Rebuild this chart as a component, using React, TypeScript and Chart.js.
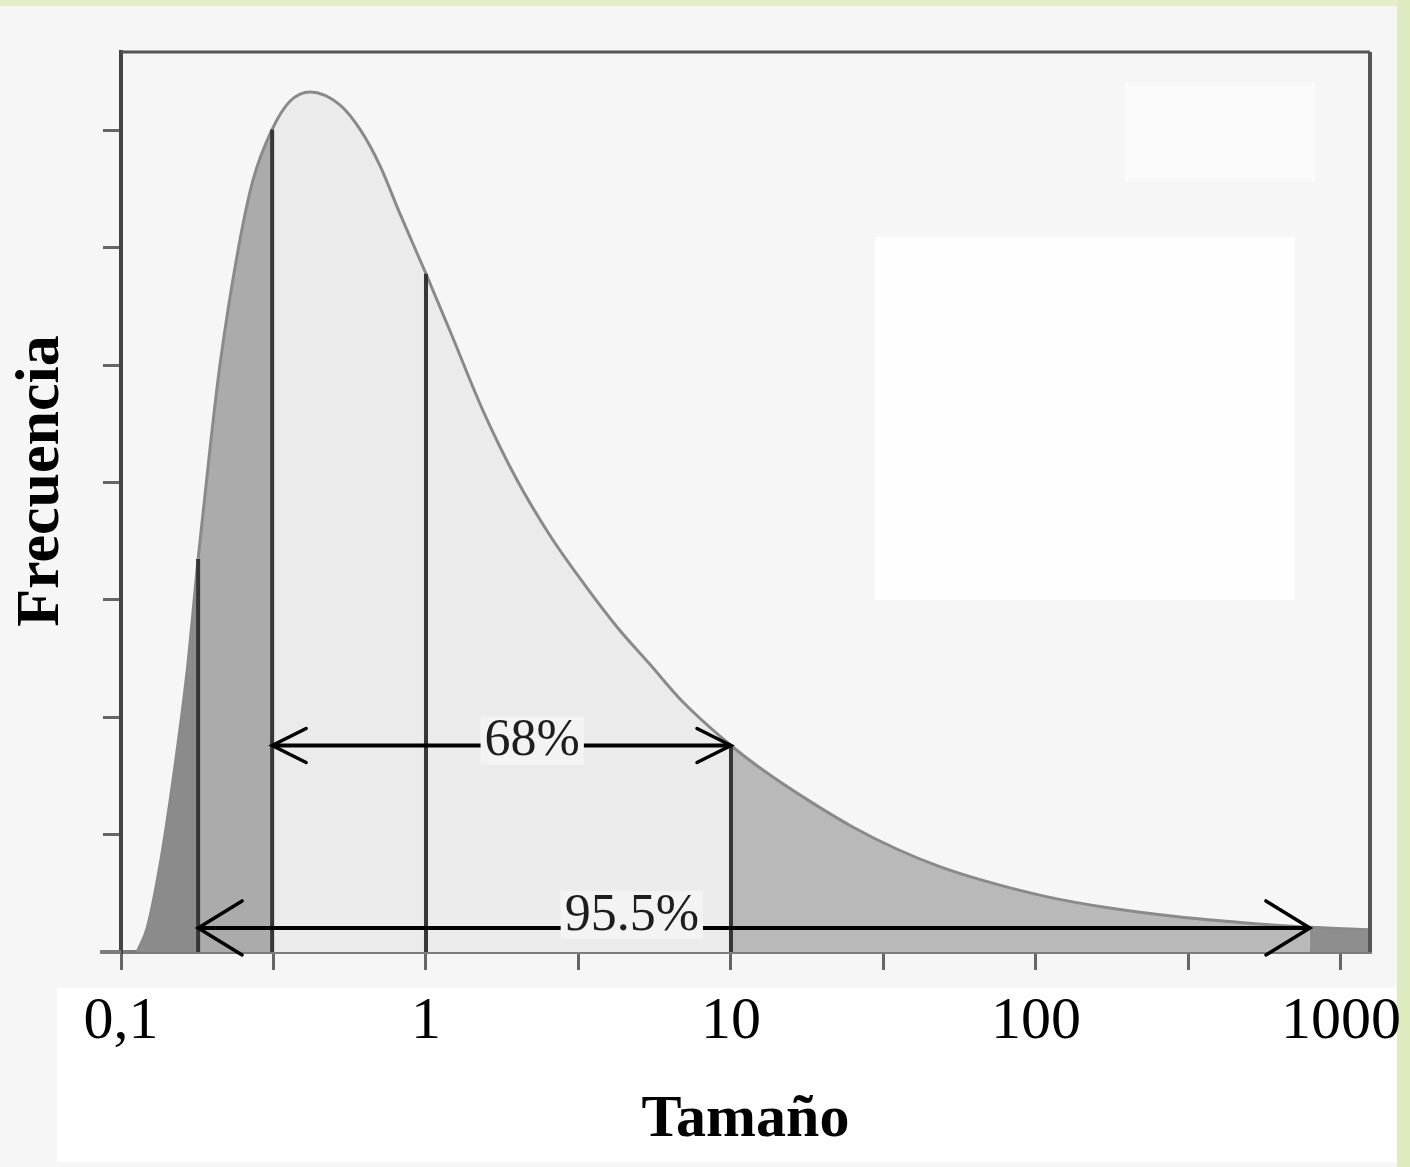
import React, { useEffect, useRef } from 'react';
import { Chart, registerables } from 'chart.js';

Chart.register(...registerables);

// ---- data ----
const curveX = [0.113, 0.122, 0.134, 0.148, 0.165, 0.179, 0.196, 0.211, 0.24, 0.271, 0.313, 0.358, 0.417, 0.522, 0.608, 0.707, 0.822, 1, 1.2, 1.54, 1.99, 2.55, 3.27, 4.23, 5.43, 6.96, 10, 12.9, 18, 24.9, 34.8, 48.1, 67, 109, 179, 292, 477, 791, 1245];
const curveY = [0, 0.21, 0.73, 1.46, 2.41, 3.35, 4.3, 5.0, 5.93, 6.58, 7.01, 7.25, 7.33, 7.22, 7.01, 6.7, 6.29, 5.78, 5.29, 4.61, 4.02, 3.55, 3.15, 2.77, 2.45, 2.13, 1.76, 1.54, 1.29, 1.07, 0.88, 0.73, 0.61, 0.47, 0.37, 0.3, 0.25, 0.21, 0.19];

const regionBounds = [0.179, 0.313, 10, 791];
const regionColors = ['#8b8b8b', '#ababab', '#ebebeb', '#b9b9b9', '#8e8e8e'];

const vlineX = [0.179, 0.313, 1, 10];

const arrowFrom = [0.313, 0.179];
const arrowTo = [10, 791];
const arrowY = [1.76, 0.205];
const arrowLabels = ['68%', '95.5%'];
const arrowLabelX = [2.23, 4.73];

const xTickValues = [0.1, 0.316, 1, 3.16, 10, 31.6, 100, 316, 1000];
const xTickLabels = ['0,1', '', '1', '', '10', '', '100', '', '1000'];
const yTickValues = [0, 1, 2, 3, 4, 5, 6, 7];
const xMin = 0.1;
const xMax = 1245;
const yMin = 0;
const yMax = 7.67;
const xTitle = 'Tamaño';
const yTitle = 'Frecuencia';

const SERIF = "'Liberation Serif', 'Times New Roman', serif";

function regionOf(x: number) {
  let i = 0;
  while (i < regionBounds.length && x >= regionBounds[i]) i++;
  return i;
}

const curvePoints = curveX.map((x, i) => ({ x, y: curveY[i] }));

const decorPlugin = {
  id: 'decor',
  beforeDraw(chart: any) {
    const ctx = chart.ctx;
    const W = chart.width;
    const H = chart.height;
    ctx.save();
    ctx.fillStyle = '#f6f6f6';
    ctx.fillRect(0, 0, W, H);
    // lighter patches in plot (erased areas of the original)
    ctx.fillStyle = '#fefefe';
    ctx.fillRect(875, 237, 420, 363);
    ctx.fillStyle = '#fafafa';
    ctx.fillRect(1125, 82, 190, 100);
    // white label band
    ctx.fillStyle = '#ffffff';
    ctx.fillRect(57, 988, 1340, 174);
    // green border
    ctx.fillStyle = '#e4efca';
    ctx.fillRect(0, 0, W, 6);
    ctx.fillStyle = '#deebbf';
    ctx.fillRect(1397, 0, W - 1397, H);
    ctx.restore();
  },
  afterDatasetsDraw(chart: any) {
    const ctx = chart.ctx;
    const xs = chart.scales.x;
    const ys = chart.scales.y;
    const area = chart.chartArea;
    ctx.save();
    // frame (top and right)
    ctx.strokeStyle = '#555';
    ctx.lineWidth = 3;
    ctx.beginPath();
    ctx.moveTo(area.left, area.top);
    ctx.lineTo(area.right, area.top);
    ctx.stroke();
    ctx.lineWidth = 4;
    ctx.beginPath();
    ctx.moveTo(area.right, area.top);
    ctx.lineTo(area.right, area.bottom);
    ctx.stroke();
    // baseline extension to the left
    ctx.strokeStyle = '#7d7d7d';
    ctx.beginPath();
    ctx.moveTo(100, area.bottom);
    ctx.lineTo(area.left, area.bottom);
    ctx.stroke();

    // arrowheads and labels
    const headLen = [34, 44];
    const headHalf = [17, 27];
    const labelDy = [-4, -12];
    chart.data.datasets.forEach((ds: any, di: number) => {
      if (ds.arrowIndex === undefined) return;
      const i = ds.arrowIndex;
      const meta = chart.getDatasetMeta(di);
      const p0 = meta.data[0];
      const p1 = meta.data[meta.data.length - 1];
      ctx.strokeStyle = '#000';
      ctx.lineWidth = 3.5;
      ctx.lineCap = 'round';
      ctx.beginPath();
      ctx.moveTo(p0.x + headLen[i], p0.y - headHalf[i]);
      ctx.lineTo(p0.x, p0.y);
      ctx.lineTo(p0.x + headLen[i], p0.y + headHalf[i]);
      ctx.moveTo(p1.x - headLen[i], p1.y - headHalf[i]);
      ctx.lineTo(p1.x, p1.y);
      ctx.lineTo(p1.x - headLen[i], p1.y + headHalf[i]);
      ctx.stroke();

      const lx = xs.getPixelForValue(arrowLabelX[i]);
      const ly = ys.getPixelForValue(arrowY[i]) + labelDy[i];
      ctx.font = `52px ${SERIF}`;
      const w = ctx.measureText(arrowLabels[i]).width;
      ctx.fillStyle = '#f3f3f3';
      ctx.fillRect(lx - w / 2 - 4, ly - 25, w + 8, 48);
      ctx.fillStyle = '#1e1e1e';
      ctx.textAlign = 'center';
      ctx.textBaseline = 'middle';
      ctx.fillText(arrowLabels[i], lx, ly);
    });
    ctx.restore();
  },
  afterDraw(chart: any) {
    const ctx = chart.ctx;
    ctx.save();
    ctx.translate(58, 481);
    ctx.rotate(-Math.PI / 2);
    ctx.font = `bold 62px ${SERIF}`;
    ctx.fillStyle = '#000';
    ctx.textAlign = 'center';
    ctx.textBaseline = 'alphabetic';
    ctx.fillText(yTitle, 0, 0);
    ctx.restore();
  },
};

export default function App() {
  const canvasRef = useRef<HTMLCanvasElement | null>(null);

  useEffect(() => {
    const canvas = canvasRef.current;
    if (!canvas) return;

    const datasets: any[] = [
      {
        label: 'curve',
        data: curvePoints,
        borderColor: '#8a8a8a',
        borderWidth: 3,
        backgroundColor: regionColors[0],
        fill: 'origin',
        pointRadius: 0,
        cubicInterpolationMode: 'monotone',
        order: 2,
        segment: {
          backgroundColor: (c: any) => regionColors[regionOf(c.p0.parsed.x)],
        },
      },
    ];

    vlineX.forEach((v) => {
      const h = curveY[curveX.indexOf(v)];
      datasets.push({
        label: 'v' + v,
        data: [{ x: v, y: 0 }, { x: v, y: h }],
        borderColor: '#363636',
        borderWidth: 4,
        pointRadius: 0,
        fill: false,
        order: 1,
      });
    });

    arrowFrom.forEach((f, i) => {
      datasets.push({
        label: arrowLabels[i],
        data: [{ x: f, y: arrowY[i] }, { x: arrowTo[i], y: arrowY[i] }],
        borderColor: '#000',
        borderWidth: 4,
        pointRadius: 0,
        fill: false,
        order: 0,
        arrowIndex: i,
      });
    });

    const chart = new Chart(canvas, {
      type: 'line',
      data: { datasets },
      options: {
        responsive: false,
        devicePixelRatio: 1,
        animation: false,
        layout: { padding: { top: 52, right: 40, bottom: 0, left: 0 } },
        plugins: {
          legend: { display: false },
          tooltip: { enabled: false },
        },
        scales: {
          x: {
            type: 'logarithmic',
            min: xMin,
            max: xMax,
            afterBuildTicks: (s: any) => {
              s.ticks = xTickValues.map((v) => ({ value: v }));
            },
            afterFit: (s: any) => {
              s.height = 215;
              s.paddingLeft = 0;
              s.paddingRight = 0;
            },
            ticks: {
              autoSkip: false,
              maxRotation: 0,
              minRotation: 0,
              padding: 16,
              color: '#000',
              font: { family: SERIF, size: 60 },
              callback: (_v: any, i: number) => xTickLabels[i],
            },
            grid: {
              drawOnChartArea: false,
              drawTicks: true,
              tickLength: 18,
              color: '#666',
              lineWidth: 3,
            },
            border: { display: true, color: '#7d7d7d', width: 4 },
            title: {
              display: true,
              text: xTitle,
              color: '#000',
              font: { family: SERIF, size: 60, weight: 'bold' },
              padding: { top: 0, bottom: 11 },
            },
          },
          y: {
            type: 'linear',
            min: yMin,
            max: yMax,
            afterBuildTicks: (s: any) => {
              s.ticks = yTickValues.map((v) => ({ value: v }));
            },
            afterFit: (s: any) => {
              s.width = 121;
              s.paddingTop = 0;
              s.paddingBottom = 0;
            },
            ticks: { display: false },
            grid: {
              drawOnChartArea: false,
              drawTicks: true,
              tickLength: 18,
              color: '#666',
              lineWidth: 3,
            },
            border: { display: true, color: '#444', width: 4 },
          },
        },
      } as any,
      plugins: [decorPlugin],
    });

    return () => chart.destroy();
  }, []);

  return (
    <div style={{ position: 'absolute', left: 0, top: 0, width: 1410, height: 1167 }}>
      <canvas ref={canvasRef} width={1410} height={1167} />
    </div>
  );
}
